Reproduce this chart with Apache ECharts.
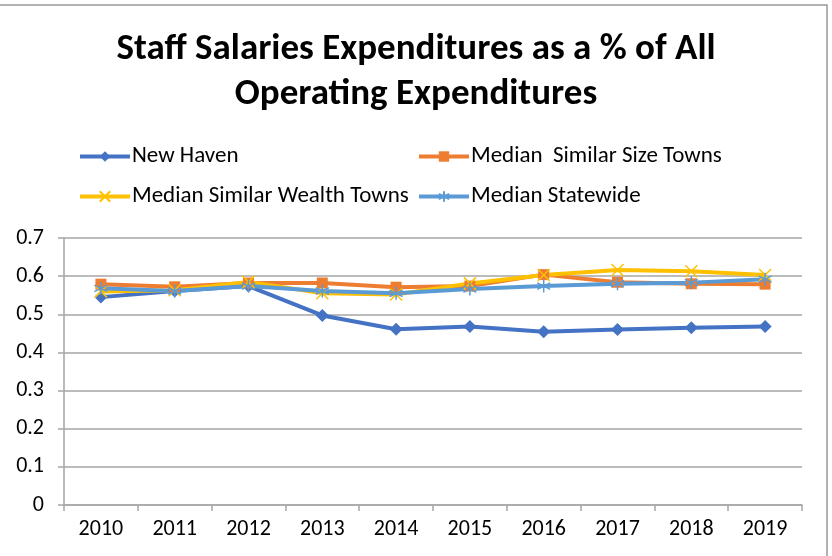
<!DOCTYPE html>
<html>
<head>
<meta charset="utf-8">
<script src="https://cdn.jsdelivr.net/npm/echarts@6/dist/echarts.min.js"></script>
<style>html,body{margin:0;padding:0;background:#fff}#c{width:832px;height:556px}</style>
</head>
<body>
<div id="c"></div>
<script>
const years = ['2010','2011','2012','2013','2014','2015','2016','2017','2018','2019'];
const newHaven = [0.545, 0.561, 0.574, 0.497, 0.461, 0.468, 0.454, 0.460, 0.465, 0.468];
const similarSize = [0.579, 0.572, 0.582, 0.582, 0.571, 0.574, 0.604, 0.584, 0.580, 0.579];
const similarWealth = [0.560, 0.563, 0.585, 0.555, 0.552, 0.581, 0.603, 0.616, 0.613, 0.603];
const statewide = [0.568, 0.561, 0.574, 0.561, 0.555, 0.566, 0.574, 0.580, 0.583, 0.592];
const yTicks = [0, 0.1, 0.2, 0.3, 0.4, 0.5, 0.6, 0.7];
const names = ['New Haven', 'Median  Similar Size Towns', 'Median Similar Wealth Towns', 'Median Statewide'];

const FONT = 'Carlito, Lato, "Open Sans", sans-serif';
const xPath = 'path://M0 0 L10 10 M10 0 L0 10';
const starPath = 'path://M5 0 L5 10 M0.7 2.5 L9.3 7.5 M9.3 2.5 L0.7 7.5';

function mkSeries(name, data, color, symbol, size, stroke) {
  return {
    name: name, type: 'line', data: data,
    symbol: symbol, symbolSize: size,
    lineStyle: { color: color, width: 4 },
    itemStyle: stroke ? { color: color, borderColor: color, borderWidth: 1.5 } : { color: color },
    emphasis: { disabled: true },
    animation: false
  };
}

function mkLegend(name, left, top) {
  return {
    data: [name], left: left, top: top, itemWidth: 50, itemHeight: 13, itemGap: 0,
    lineStyle: { width: 4 },
    textStyle: { fontFamily: FONT, fontSize: 23, color: '#000', padding: [0, 0, 0, -3] },
    selectedMode: false
  };
}

const chart = echarts.init(document.getElementById('c'), null, { renderer: 'canvas' });
chart.setOption({
  backgroundColor: '#fff',
  title: {
    text: 'Staff Salaries Expenditures as a % of All\nOperating Expenditures',
    left: 'center', top: 22,
    textStyle: { fontFamily: FONT, fontSize: 37, fontWeight: 'bold', color: '#000', lineHeight: 45 }
  },
  legend: [
    mkLegend(names[0], 73, 140),
    mkLegend(names[1], 412, 140),
    mkLegend(names[2], 73, 180),
    mkLegend(names[3], 412, 180)
  ],
  graphic: [{
    type: 'rect', shape: { x: -5, y: 5, width: 832, height: 560 },
    style: { fill: 'none', stroke: '#999', lineWidth: 1.5 }, silent: true
  }],
  grid: { left: 64, top: 238, width: 738, height: 267, containLabel: false },
  xAxis: {
    type: 'category', data: years, boundaryGap: true,
    axisLine: { lineStyle: { color: '#a6a6a6', width: 1.5 } },
    axisTick: { show: true, length: 6, alignWithLabel: false, lineStyle: { color: '#a6a6a6', width: 1.5 } },
    axisLabel: { fontFamily: FONT, fontSize: 22, color: '#000', margin: 13 }
  },
  yAxis: {
    type: 'value', min: 0, max: 0.7, interval: 0.1,
    axisLine: { show: true, lineStyle: { color: '#a6a6a6', width: 1.5 } },
    axisTick: { show: true, length: 6, lineStyle: { color: '#a6a6a6', width: 1.5 } },
    splitLine: { show: true, lineStyle: { color: '#a6a6a6', width: 1.5 } },
    axisLabel: {
      fontFamily: FONT, fontSize: 22, color: '#000', margin: 20,
      formatter: function (v) { const t = yTicks.find(x => Math.abs(x - v) < 1e-9); return t === undefined ? '' : String(t); }
    }
  },
  series: [
    mkSeries(names[0], newHaven, '#4472C4', 'diamond', 13, false),
    mkSeries(names[1], similarSize, '#ED7D31', 'rect', 11, false),
    mkSeries(names[2], similarWealth, '#FFC000', xPath, 12, true),
    mkSeries(names[3], statewide, '#5B9BD5', starPath, 13, true)
  ]
});
</script>
</body>
</html>
